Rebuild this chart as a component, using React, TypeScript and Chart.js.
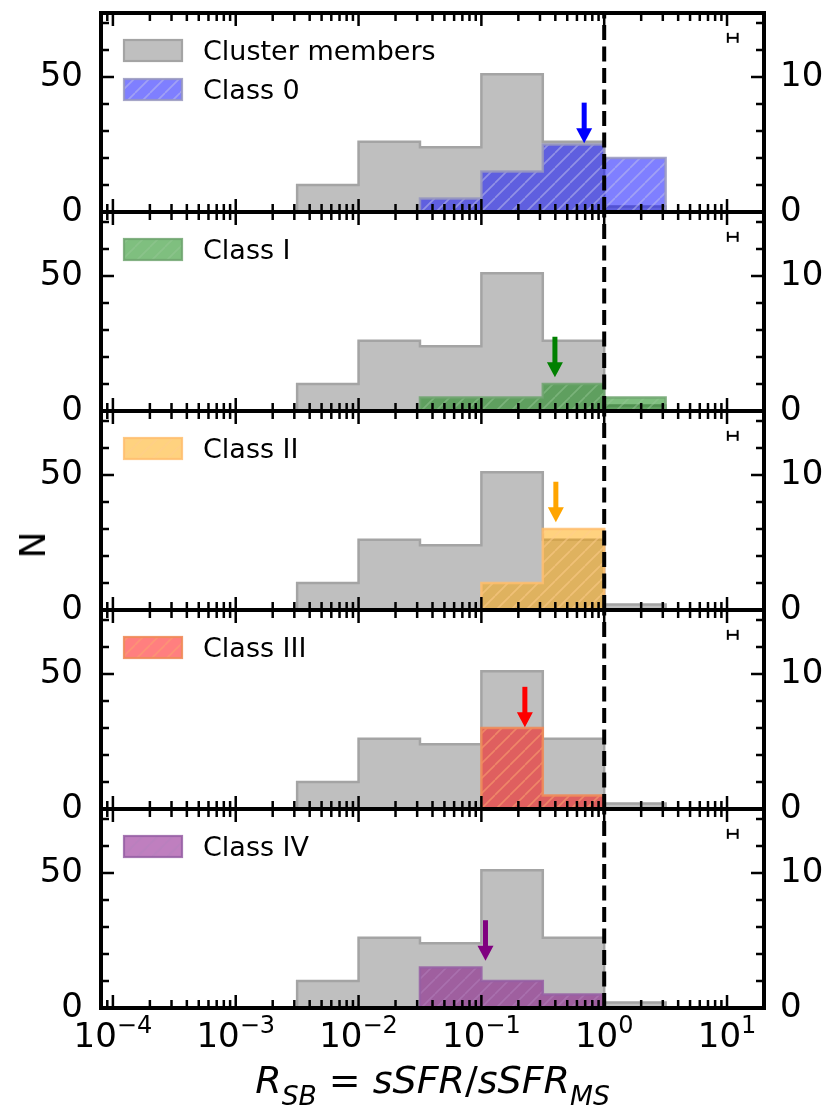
import React, { useEffect, useRef } from "react";
import Chart from "chart.js/auto";

const FONT = "'DejaVu Sans', sans-serif";

// histogram bins, log10(R_SB), half a decade wide
const binEdgesLog = [-2.5, -2, -1.5, -1, -0.5, 0, 0.5];

// all cluster members (left axis)
const clusterCounts = [10, 26, 24, 51, 26, 2];

// YSO classes (right axis)
const classLabels = ["Class 0", "Class I", "Class II", "Class III", "Class IV"];
const class0Counts = [0, 0, 1, 3, 5, 4];
const class1Counts = [0, 0, 1, 1, 2, 1];
const class2Counts = [0, 0, 0, 2, 6, 0];
const class3Counts = [0, 0, 0, 6, 1, 0];
const class4Counts = [0, 0, 3, 2, 1, 0];
const classCounts = [class0Counts, class1Counts, class2Counts, class3Counts, class4Counts];

// median arrows: x in R_SB, start / tip in class counts
const classMedians = [0.687, 0.397, 0.404, 0.226, 0.108];
const arrowFrom = [8.1, 5.5, 9.5, 9.05, 6.5];
const arrowTo = [5.1, 2.5, 6.5, 6.05, 3.5];

// typical error, top right corner (left-axis units)
const errLow = 10.15;
const errHigh = 12.2;
const errLevel = 64.5;

const starburstLine = 1;

// axes
const xMin = 8e-5;
const xMax = 20;
const yLeftMax = 73.7;
const yRightMax = 14.74;
const xMajorExp = [-4, -3, -2, -1, 0, 1];
const xMinorMult = [2, 3, 4, 5, 6, 7, 8, 9];
const yLeftTicks = [0, 10, 20, 30, 40, 50, 60, 70];
const yLeftLabels = [0, 50];
const yRightTicks = [0, 2, 4, 6, 8, 10, 12, 14];
const yRightLabels = [0, 10];

// styles
const grayFill = "rgba(128,128,128,0.5)";
const grayEdge = "#a4a4a4";
const classFill = ["rgba(0,0,255,0.5)", "rgba(0,128,0,0.5)", "rgba(255,165,0,0.5)", "rgba(255,0,0,0.5)", "rgba(128,0,128,0.5)"];
const classEdge = ["rgba(150,150,190,0.85)", "rgba(110,165,110,0.85)", "rgba(255,190,110,0.85)", "rgba(240,140,90,0.9)", "rgba(150,95,165,0.85)"];
const classHatch = ["rgba(190,190,235,0.55)", "rgba(150,200,150,0.5)", "rgba(255,205,140,0.55)", "rgba(250,160,110,0.6)", "rgba(180,130,190,0.5)"];
const arrowColors = ["#0000ff", "#008000", "#ffa500", "#ff0000", "#800080"];

// layout
const FIG_W = 831;
const FIG_H = 1116;
const PANEL_TOPS = [13, 212, 411, 610, 809];
const PANEL_H = 199;
const PAD = 40;
const AXIS_LEFT = 101;
const AXIS_RIGHT = 764;

function histPoints(counts: number[]) {
  const pts = [{ x: 10 ** binEdgesLog[0], y: 0 }];
  counts.forEach((c, i) => {
    pts.push({ x: 10 ** binEdgesLog[i], y: c });
    pts.push({ x: 10 ** binEdgesLog[i + 1], y: c });
  });
  pts.push({ x: 10 ** binEdgesLog[binEdgesLog.length - 1], y: 0 });
  return pts;
}

function hatch(fill: string, line: string) {
  const s = 15;
  const c = document.createElement("canvas");
  c.width = s;
  c.height = s;
  const g = c.getContext("2d")!;
  g.fillStyle = fill;
  g.fillRect(0, 0, s, s);
  g.strokeStyle = line;
  g.lineWidth = 1.6;
  g.beginPath();
  for (const o of [-s, 0, s]) {
    g.moveTo(o, s);
    g.lineTo(o + s, 0);
  }
  g.stroke();
  return g.createPattern(c, "repeat")!;
}

interface LegendEntry {
  label: string;
  fill: string | CanvasPattern;
  edge: string;
}

function overlay(i: number, legend: LegendEntry[], xLabels: boolean) {
  return {
    id: "overlay" + i,
    afterDraw(chart: any) {
      const { ctx, chartArea: a } = chart;
      const x = chart.scales.x;
      const yl = chart.scales.y;
      const yr = chart.scales.y2;
      ctx.save();

      // median arrow
      const ax = x.getPixelForValue(classMedians[i]);
      const aTop = yr.getPixelForValue(arrowFrom[i]);
      const aTip = yr.getPixelForValue(arrowTo[i]);
      const headLen = 15;
      const headHalf = 8;
      ctx.fillStyle = arrowColors[i];
      ctx.fillRect(ax - 2.5, aTop, 5, aTip - headLen - aTop + 1);
      ctx.beginPath();
      ctx.moveTo(ax - headHalf, aTip - headLen);
      ctx.lineTo(ax + headHalf, aTip - headLen);
      ctx.lineTo(ax, aTip);
      ctx.closePath();
      ctx.fill();

      // frame
      ctx.strokeStyle = "#000";
      ctx.lineWidth = 4;
      ctx.strokeRect(a.left, a.top, a.right - a.left, a.bottom - a.top);

      // inward ticks
      ctx.lineWidth = 2.5;
      ctx.beginPath();
      const seg = (x0: number, y0: number, x1: number, y1: number) => {
        ctx.moveTo(x0, y0);
        ctx.lineTo(x1, y1);
      };
      for (let e = xMajorExp[0] - 1; e <= xMajorExp[xMajorExp.length - 1]; e++) {
        [1, ...xMinorMult].forEach((m) => {
          const v = m * 10 ** e;
          const px = x.getPixelForValue(v);
          if (px < a.left + 2 || px > a.right - 2) return;
          const len = m === 1 ? 13 : 8;
          seg(px, a.bottom, px, a.bottom - len);
          seg(px, a.top, px, a.top + len);
        });
      }
      yLeftTicks.forEach((v) => {
        const py = yl.getPixelForValue(v);
        const len = yLeftLabels.includes(v) ? 13 : 8;
        seg(a.left, py, a.left + len, py);
      });
      yRightTicks.forEach((v) => {
        const py = yr.getPixelForValue(v);
        const len = yRightLabels.includes(v) ? 13 : 8;
        seg(a.right, py, a.right - len, py);
      });
      ctx.stroke();

      // legend
      legend.forEach((it, k) => {
        const bx = a.left + 23;
        const by = a.top + 27 + k * 39;
        ctx.fillStyle = it.fill;
        ctx.fillRect(bx, by, 58, 21);
        ctx.strokeStyle = it.edge;
        ctx.lineWidth = 2.2;
        ctx.strokeRect(bx, by, 58, 21);
        ctx.fillStyle = "#000";
        ctx.font = `27px ${FONT}`;
        ctx.textAlign = "left";
        ctx.textBaseline = "alphabetic";
        ctx.fillText(it.label, a.left + 102, by + 10.5 + 9.8);
      });

      // x tick labels 10^n
      if (xLabels) {
        ctx.fillStyle = "#000";
        ctx.textAlign = "left";
        ctx.textBaseline = "alphabetic";
        xMajorExp.forEach((e) => {
          const px = x.getPixelForValue(10 ** e);
          const exp = e < 0 ? "\u2212" + Math.abs(e) : String(e);
          ctx.font = `34px ${FONT}`;
          const wb = ctx.measureText("10").width;
          ctx.font = `24px ${FONT}`;
          const we = ctx.measureText(exp).width;
          const left = px - (wb + we) / 2;
          const base = a.bottom + 39;
          ctx.font = `34px ${FONT}`;
          ctx.fillText("10", left, base);
          ctx.font = `24px ${FONT}`;
          ctx.fillText(exp, left + wb, base - 14);
        });
      }
      ctx.restore();
    },
  };
}

function panelConfig(i: number, last: boolean): any {
  const classPattern = hatch(classFill[i], classHatch[i]);
  const legend: LegendEntry[] = [];
  if (i === 0) legend.push({ label: "Cluster members", fill: grayFill, edge: grayEdge });
  legend.push({ label: classLabels[i], fill: classPattern, edge: classEdge[i] });

  const padBottom = last ? FIG_H - (PANEL_TOPS[i] + PANEL_H) : PAD;
  const tickFont = { family: FONT, size: 34 };

  return {
    type: "line",
    data: {
      datasets: [
        {
          label: "Cluster members",
          data: histPoints(clusterCounts),
          yAxisID: "y",
          borderColor: grayEdge,
          borderWidth: 2.5,
          backgroundColor: grayFill,
          fill: "origin",
          pointRadius: 0,
          borderJoinStyle: "miter",
          order: 4,
        },
        {
          label: classLabels[i],
          data: histPoints(classCounts[i]),
          yAxisID: "y2",
          borderColor: classEdge[i],
          borderWidth: 2.5,
          backgroundColor: classPattern,
          fill: "origin",
          pointRadius: 0,
          borderJoinStyle: "miter",
          order: 3,
        },
        {
          label: "R_SB = 1",
          data: [
            { x: starburstLine, y: 0 },
            { x: starburstLine, y: yLeftMax },
          ],
          yAxisID: "y",
          borderColor: "#000",
          borderWidth: 4,
          borderDash: [15, 6.5],
          pointRadius: 0,
          fill: false,
          order: 2,
        },
        {
          label: "error",
          data: [
            { x: errLow, y: errLevel },
            { x: errHigh, y: errLevel },
          ],
          yAxisID: "y",
          borderColor: "#000",
          borderWidth: 2,
          pointStyle: "line",
          pointRotation: 90,
          pointRadius: 5,
          pointBorderWidth: 2,
          pointBorderColor: "#000",
          fill: false,
          order: 1,
        },
      ],
    },
    options: {
      responsive: false,
      animation: false,
      events: [],
      layout: { padding: { top: PAD, bottom: padBottom, left: 0, right: 0 } },
      plugins: { legend: { display: false }, tooltip: { enabled: false } },
      scales: {
        x: {
          type: "logarithmic",
          min: xMin,
          max: xMax,
          grid: { display: false },
          border: { display: false },
          ticks: { display: false },
          afterFit: (s: any) => {
            s.height = 0;
          },
        },
        y: {
          type: "linear",
          position: "left",
          min: 0,
          max: yLeftMax,
          grid: { display: false },
          border: { display: false },
          ticks: {
            autoSkip: false,
            padding: 10,
            color: "#000",
            font: tickFont,
            callback: (v: number) => (yLeftLabels.includes(v) ? String(v) : ""),
          },
          afterBuildTicks: (s: any) => {
            s.ticks = yLeftTicks.map((v) => ({ value: v }));
          },
          afterFit: (s: any) => {
            s.width = AXIS_LEFT;
          },
        },
        y2: {
          type: "linear",
          position: "right",
          min: 0,
          max: yRightMax,
          grid: { display: false },
          border: { display: false },
          ticks: {
            autoSkip: false,
            padding: 8,
            color: "#000",
            font: tickFont,
            callback: (v: number) => (yRightLabels.includes(v) ? String(v) : ""),
          },
          afterBuildTicks: (s: any) => {
            s.ticks = yRightTicks.map((v) => ({ value: v }));
          },
          afterFit: (s: any) => {
            s.width = FIG_W - AXIS_RIGHT;
          },
        },
      },
    },
    plugins: [overlay(i, legend, last)],
  };
}

const subStyle: React.CSSProperties = {
  fontSize: "0.7em",
  verticalAlign: "-12px",
  lineHeight: 0,
};

const App = () => {
  const refs = useRef<(HTMLCanvasElement | null)[]>([]);

  useEffect(() => {
    const charts = PANEL_TOPS.map((_, i) => {
      const canvas = refs.current[i]!;
      return new Chart(canvas.getContext("2d")!, panelConfig(i, i === PANEL_TOPS.length - 1));
    });
    return () => {
      charts.forEach((c) => c.destroy());
    };
  }, []);

  return (
    <div
      style={{
        position: "absolute",
        left: 0,
        top: 0,
        width: FIG_W,
        height: FIG_H,
        background: "#fff",
        overflow: "hidden",
        fontFamily: FONT,
      }}
    >
      {PANEL_TOPS.map((t, i) => {
        const last = i === PANEL_TOPS.length - 1;
        const h = PAD + PANEL_H + (last ? FIG_H - (t + PANEL_H) : PAD);
        return (
          <canvas
            key={i}
            ref={(el) => {
              refs.current[i] = el;
            }}
            width={FIG_W}
            height={h}
            style={{ position: "absolute", left: 0, top: t - PAD, width: FIG_W, height: h }}
          />
        );
      })}
      <div
        style={{
          position: "absolute",
          left: 33,
          top: 545,
          transform: "translate(-50%, -50%) rotate(-90deg)",
          fontSize: 36,
          lineHeight: 1,
          color: "#000",
        }}
      >
        N
      </div>
      <div
        style={{
          position: "absolute",
          left: AXIS_LEFT,
          width: AXIS_RIGHT - AXIS_LEFT,
          top: 1060,
          textAlign: "center",
          fontSize: 38,
          lineHeight: "40px",
          whiteSpace: "nowrap",
          color: "#000",
        }}
      >
        <i>R</i>
        <sub style={subStyle}>
          <i>SB</i>
        </sub>
        {" = "}
        <i>sSFR</i>/<i>sSFR</i>
        <sub style={subStyle}>
          <i>MS</i>
        </sub>
      </div>
    </div>
  );
};

export default App;
